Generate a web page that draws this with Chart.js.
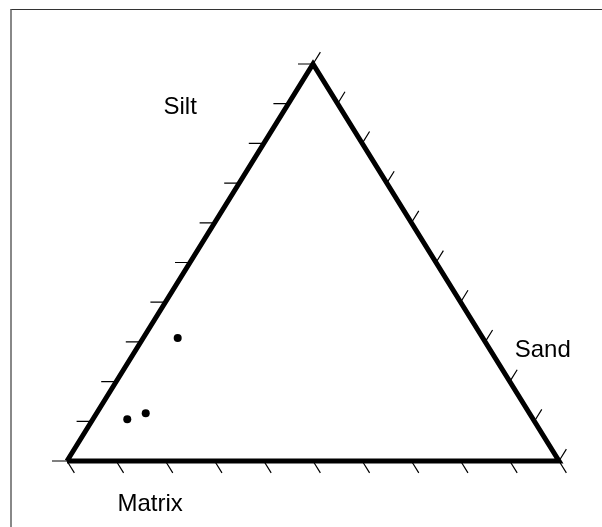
<!DOCTYPE html>
<html>
<head>
<meta charset="utf-8">
<script src="https://cdn.jsdelivr.net/npm/chart.js@4.4.1/dist/chart.umd.min.js"></script>
<style>
  html, body { margin: 0; padding: 0; background: #fff; }
  #wrap { position: relative; width: 602px; height: 527px; overflow: hidden; }
  #frame {
    position: absolute; left: 10px; top: 9px; width: 700px; height: 600px;
    border-top: 1px solid #333; border-left: 2px solid #888;
  }
  canvas { position: absolute; left: 0; top: 0; }
</style>
</head>
<body>
<div id="wrap">
  <div id="frame"></div>
  <canvas id="myChart" width="602" height="527"></canvas>
</div>
<script>
// samples, in percent (matrix + silt + sand = 100)
const matrix = [62, 78, 82.5];
const silt = [31, 12, 10.5];
const sand = [7, 10, 7];

const tickValues = [0, 10, 20, 30, 40, 50, 60, 70, 80, 90, 100];
const axisNames = ['Matrix', 'Silt', 'Sand'];

// ternary -> plot coords: bottom-left = Matrix, top = Silt, bottom-right = Sand
function toXY(m, si, sa) {
  const total = m + si + sa;
  return { x: (100 * sa) / total + (50 * si) / total, y: (100 * si) / total };
}

const samplePoints = matrix.map((m, i) => toXY(m, silt[i], sand[i]));
const outline = [toXY(100, 0, 0), toXY(0, 0, 100), toXY(0, 100, 0), toXY(100, 0, 0)];

const ternaryDecor = {
  id: 'ternaryDecor',
  afterDatasetsDraw(chart) {
    const ctx = chart.ctx;
    const xs = chart.scales.x;
    const ys = chart.scales.y;
    const px = (p) => [xs.getPixelForValue(p.x), ys.getPixelForValue(p.y)];

    // edge directions in pixels
    const [blx, bly] = px(toXY(100, 0, 0));
    const [tx, ty] = px(toXY(0, 100, 0));
    const [brx, bry] = px(toXY(0, 0, 100));
    let dR = [brx - tx, bry - ty];
    let nR = Math.hypot(dR[0], dR[1]);
    dR = [dR[0] / nR, dR[1] / nR];
    let dL = [tx - blx, ty - bly];
    let nL = Math.hypot(dL[0], dL[1]);
    dL = [dL[0] / nL, dL[1] / nL];

    ctx.save();
    ctx.strokeStyle = '#000';
    ctx.lineWidth = 1.2;
    ctx.beginPath();
    tickValues.forEach((v) => {
      // bottom (matrix) ticks, parallel to right edge
      let [a, b] = px(toXY(v, 0, 100 - v));
      ctx.moveTo(a, b);
      ctx.lineTo(a + dR[0] * 14, b + dR[1] * 14);
      // left (silt) ticks, horizontal
      [a, b] = px(toXY(100 - v, v, 0));
      ctx.moveTo(a, b);
      ctx.lineTo(a - 15, b);
      // right (sand) ticks, parallel to left edge
      [a, b] = px(toXY(0, 100 - v, v));
      ctx.moveTo(a, b);
      ctx.lineTo(a + dL[0] * 14, b + dL[1] * 14);
    });
    ctx.stroke();

    ctx.fillStyle = '#000';
    ctx.font = '24px "Liberation Sans", Arial, sans-serif';
    ctx.textAlign = 'center';
    ctx.textBaseline = 'middle';
    ctx.fillText(axisNames[1], xs.getPixelForValue(23), ys.getPixelForValue(89.2));
    ctx.fillText(axisNames[2], xs.getPixelForValue(96.7), ys.getPixelForValue(27.9));
    ctx.fillText(axisNames[0], xs.getPixelForValue(16.9), ys.getPixelForValue(-10.8));
    ctx.restore();
  },
};

const chartConfig = {
  type: 'scatter',
  data: {
    datasets: [
      {
        label: 'outline',
        type: 'line',
        data: outline,
        borderColor: '#000',
        borderWidth: 5,
        borderJoinStyle: 'miter',
        pointRadius: 0,
        fill: false,
        tension: 0,
      },
      {
        label: 'samples',
        data: samplePoints,
        backgroundColor: '#000',
        borderColor: '#000',
        pointRadius: 4,
        borderWidth: 0,
      },
    ],
  },
  options: {
    responsive: false,
    animation: false,
    clip: false,
    layout: { padding: { left: 67, right: 43, top: 64, bottom: 66 } },
    plugins: { legend: { display: false }, tooltip: { enabled: false } },
    scales: {
      x: { type: 'linear', min: 0, max: 100, display: false },
      y: { type: 'linear', min: 0, max: 100, display: false },
    },
  },
  plugins: [ternaryDecor],
};

new Chart(document.getElementById('myChart'), chartConfig);
</script>
</body>
</html>
